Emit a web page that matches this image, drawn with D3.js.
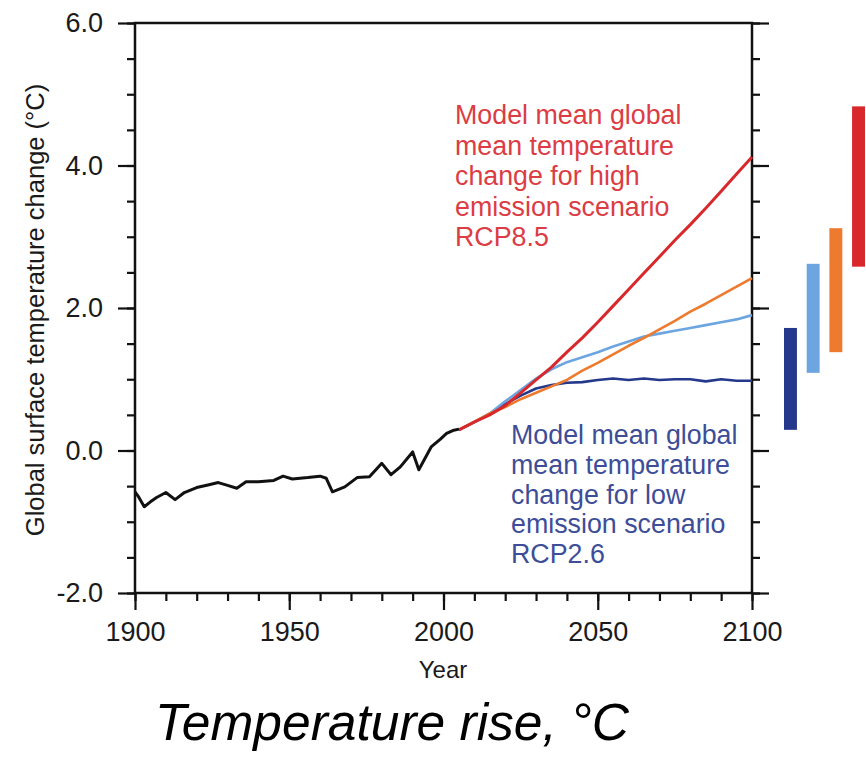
<!DOCTYPE html>
<html>
<head>
<meta charset="utf-8">
<script src="https://cdn.jsdelivr.net/npm/d3@7"></script>
<style>
  html, body { margin: 0; padding: 0; background: #fff; }
  svg { display: block; font-family: "Liberation Sans", Arial, Helvetica, sans-serif; }
</style>
</head>
<body>
<svg id="chart" width="866" height="757"></svg>
<script>
// Global surface temperature change, model means + 2081-2100 ranges

const histYears = [1900,1901,1903,1905,1907,1910,1913,1916,1920,1924,1927,1930,1933,1936,1940,1945,1948,1951,1956,
  1960,1962,1964,1968,1972,1976,1980,1983,1986,1990,1992,1996,1999,2001,2003,2005];
const histTemp = [-0.58,-0.64,-0.79,-0.72,-0.66,-0.59,-0.69,-0.59,-0.52,-0.48,-0.45,-0.49,-0.53,-0.44,-0.44,-0.42,-0.36,-0.40,-0.38,
  -0.36,-0.39,-0.58,-0.51,-0.38,-0.37,-0.18,-0.34,-0.23,-0.02,-0.27,0.05,0.16,0.24,0.28,0.30];

const projYears = [2005,2010,2015,2020,2025,2030,2035,2040,2045,2050,2055,2060,2065,2070,2075,2080,2085,2090,2095,2100];
const rcp26 = [0.29,0.40,0.51,0.65,0.77,0.87,0.92,0.95,0.96,0.99,1.01,0.99,1.01,0.99,1.00,1.00,0.97,1.00,0.98,0.98];
const rcp45 = [0.29,0.40,0.52,0.69,0.85,1.01,1.14,1.24,1.31,1.38,1.46,1.53,1.60,1.64,1.68,1.72,1.76,1.80,1.84,1.90];
const rcp60 = [0.29,0.40,0.52,0.61,0.72,0.81,0.90,0.99,1.12,1.23,1.35,1.47,1.58,1.70,1.82,1.95,2.06,2.18,2.30,2.42];
const rcp85 = [0.29,0.40,0.50,0.63,0.81,0.99,1.17,1.38,1.58,1.80,2.03,2.26,2.49,2.72,2.95,3.17,3.40,3.64,3.88,4.12];

const scenarios = ['RCP2.6','RCP4.5','RCP6.0','RCP8.5'];
const scenarioColors = ['#24388c','#6ca5e0','#ee7a2e','#d8282c'];
const rangeLow  = [0.29,1.09,1.38,2.58];
const rangeHigh = [1.72,2.62,3.12,4.83];

const yTicks = [-2,0,2,4,6];
const xTicks = [1900,1950,2000,2050,2100];

const highNote = ['Model mean global','mean temperature','change for high','emission scenario','RCP8.5'];
const lowNote  = ['Model mean global','mean temperature','change for low','emission scenario','RCP2.6'];

const svg = d3.select('#chart');
const x = d3.scaleLinear().domain([1900, 2100]).range([135, 752]);
const y = d3.scaleLinear().domain([-2, 6]).range([593, 23]);

// minor ticks first
svg.append('g').attr('transform', 'translate(0,593)')
  .call(d3.axisBottom(x).tickValues(d3.range(1900, 2101, 10)).tickSize(8).tickFormat(''));
svg.append('g').attr('transform', 'translate(135,0)')
  .call(d3.axisLeft(y).tickValues(d3.range(-2, 6.01, 0.5)).tickSize(8).tickFormat(''));
svg.append('g').attr('transform', 'translate(752,0)')
  .call(d3.axisRight(y).tickValues(d3.range(-2, 6.01, 0.5)).tickSize(8).tickFormat(''));

// major ticks + labels
const xAxis = svg.append('g').attr('transform', 'translate(0,593)')
  .call(d3.axisBottom(x).tickValues(xTicks).tickSize(17).tickPadding(12).tickFormat(d3.format('d')));
const yAxis = svg.append('g').attr('transform', 'translate(135,0)')
  .call(d3.axisLeft(y).tickValues(yTicks).tickSize(17).tickPadding(15).tickFormat(d => d.toFixed(1)));
svg.append('g').attr('transform', 'translate(752,0)')
  .call(d3.axisRight(y).tickValues(yTicks).tickSize(17).tickFormat(''));

svg.selectAll('.domain').remove();
svg.selectAll('.tick line').attr('stroke', '#111').attr('stroke-width', 2.2);
[xAxis, yAxis].forEach(a => a.selectAll('text')
  .attr('fill', '#1a1a1a').style('font-size', '27px').style('font-family', '"Liberation Sans", Arial, sans-serif'));

// frame
svg.append('rect')
  .attr('x', x(1900)).attr('y', y(6))
  .attr('width', x(2100) - x(1900)).attr('height', y(-2) - y(6))
  .attr('fill', 'none').attr('stroke', '#111').attr('stroke-width', 2.5);

// axis titles
svg.append('text').attr('x', 443).attr('y', 678).attr('text-anchor', 'middle')
  .attr('font-size', 24).attr('fill', '#1a1a1a').text('Year');
svg.append('text').attr('transform', 'translate(44,310) rotate(-90)').attr('text-anchor', 'middle')
  .attr('font-size', 25.5).attr('fill', '#1a1a1a').text('Global surface temperature change (°C)');

// projections
const line = d3.line().x(d => x(d[0])).y(d => y(d[1]));
const series = [rcp26, rcp45, rcp60, rcp85];
series.forEach((vals, i) => {
  svg.append('path')
    .datum(projYears.map((yr, j) => [yr, vals[j]]))
    .attr('d', line)
    .attr('fill', 'none')
    .attr('stroke', scenarioColors[i])
    .attr('stroke-width', i === 3 ? 3 : 2.6)
    .attr('stroke-linejoin', 'round');
});

// historical
svg.append('path')
  .datum(histYears.map((yr, j) => [yr, histTemp[j]]))
  .attr('d', line)
  .attr('fill', 'none').attr('stroke', '#111').attr('stroke-width', 3).attr('stroke-linejoin', 'round');

// 2081-2100 likely ranges to the right of the frame
const bx = d3.scaleBand().domain(scenarios).range([784, 865]).paddingInner(0.43).paddingOuter(0);
svg.selectAll('.range-bar')
  .data(scenarios)
  .join('rect')
  .attr('class', 'range-bar')
  .attr('x', d => bx(d))
  .attr('width', bx.bandwidth())
  .attr('y', (d, i) => y(rangeHigh[i]))
  .attr('height', (d, i) => y(rangeLow[i]) - y(rangeHigh[i]))
  .attr('fill', (d, i) => scenarioColors[i]);

// annotations
svg.append('text').attr('fill', '#dc3c44').attr('font-size', 26.8)
  .selectAll('tspan').data(highNote).join('tspan')
  .attr('x', 455).attr('y', (d, i) => 124 + i * 30.5).text(d => d);
svg.append('text').attr('fill', '#3d4d98').attr('font-size', 26.8)
  .selectAll('tspan').data(lowNote).join('tspan')
  .attr('x', 511).attr('y', (d, i) => 444 + i * 29.8).text(d => d);

// caption
svg.append('text').attr('x', 392).attr('y', 740).attr('text-anchor', 'middle')
  .attr('font-size', 51.5).attr('font-style', 'italic').attr('fill', '#000')
  .text('Temperature rise, °C');
</script>
</body>
</html>
